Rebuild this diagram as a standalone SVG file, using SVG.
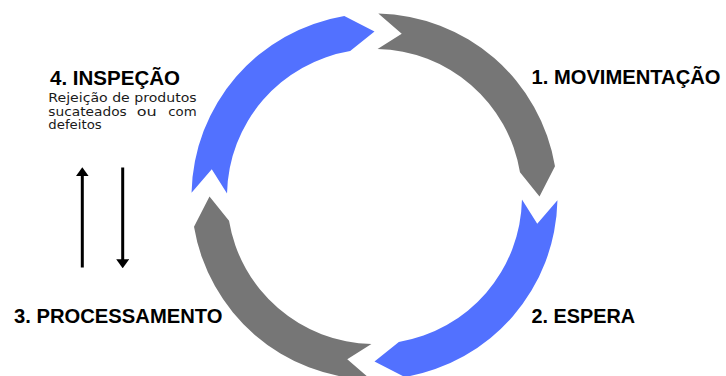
<svg xmlns="http://www.w3.org/2000/svg" width="726" height="376" viewBox="0 0 726 376">
<style>
.gray{fill:#767676}
.blue{fill:#5271ff}
.title{font-family:"Liberation Sans","DejaVu Sans",Arial,sans-serif;font-weight:bold;font-size:19.5px;fill:#000}
.sub{font-family:"DejaVu Sans","Liberation Sans",sans-serif;font-size:11.5px;fill:#1a1a1a}
.conn{stroke:#000;stroke-width:3;fill:none}
</style>
<defs>
<marker id="ah" viewBox="0 0 9 13" refX="2" refY="6.5" markerWidth="9" markerHeight="13" markerUnits="userSpaceOnUse" orient="auto">
<path d="M0,0 L9,6.5 L0,13 Z" fill="#000"/>
</marker>
</defs>
<rect width="726" height="376" fill="#fff"/>
<g id="seg1">
<path class="gray" d="M378.33,13.54 A183,183 0 0 1 554.99,166.30 L539.5,196.5 L519.98,172.16 A147.5,147.5 0 0 0 377.59,49.03 L401.73,33.76 Z"/>
</g>
<g id="seg2">
<path class="blue" d="M557.46,200.33 A183,183 0 0 1 404.70,376.99 L374.5,361.5 L398.84,341.98 A147.5,147.5 0 0 0 521.97,199.59 L537.24,223.73 Z"/>
</g>
<g id="seg3">
<path class="gray" d="M370.67,379.46 A183,183 0 0 1 194.01,226.70 L209.5,196.5 L229.02,220.84 A147.5,147.5 0 0 0 371.41,343.97 L347.27,359.24 Z"/>
</g>
<g id="seg4">
<path class="blue" d="M191.54,192.67 A183,183 0 0 1 344.30,16.01 L374.5,31.5 L350.16,51.02 A147.5,147.5 0 0 0 227.03,193.41 L211.76,169.27 Z"/>
</g>
<g id="label1">
<text class="title" x="531.5" y="84" textLength="189" lengthAdjust="spacingAndGlyphs">1. MOVIMENTAÇÃO</text>
</g>
<g id="label2">
<text class="title" x="531.5" y="322.5" textLength="103.5" lengthAdjust="spacingAndGlyphs">2. ESPERA</text>
</g>
<g id="label3">
<text class="title" x="14" y="322.5" textLength="208.5" lengthAdjust="spacingAndGlyphs">3. PROCESSAMENTO</text>
</g>
<g id="label4">
<text class="title" x="50" y="85" textLength="130" lengthAdjust="spacingAndGlyphs">4. INSPEÇÃO</text>
<text class="sub" x="48.3" y="102.3" textLength="148.4" lengthAdjust="spacingAndGlyphs">Rejeição de produtos</text>
<text class="sub" x="48.3" y="115.7" textLength="78.4" lengthAdjust="spacingAndGlyphs">sucateados</text>
<text class="sub" x="136.7" y="115.7" textLength="20" lengthAdjust="spacingAndGlyphs">ou</text>
<text class="sub" x="168.3" y="115.7" textLength="28.4" lengthAdjust="spacingAndGlyphs">com</text>
<text class="sub" x="48.3" y="129" textLength="53.4" lengthAdjust="spacingAndGlyphs">defeitos</text>
</g>
<g id="connectors">
<line class="conn" x1="82.3" y1="267.5" x2="82.3" y2="174.3" marker-end="url(#ah)"/>
<line class="conn" x1="122.7" y1="167.5" x2="122.7" y2="261.3" marker-end="url(#ah)"/>
</g>
</svg>
